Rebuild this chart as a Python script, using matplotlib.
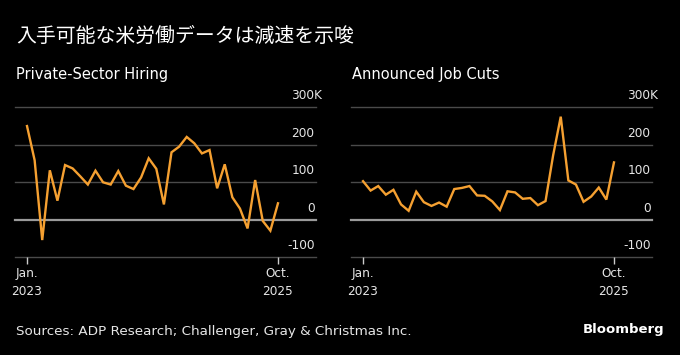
import numpy as np
import matplotlib
matplotlib.use("Agg")
import matplotlib.pyplot as plt

plt.rcParams['font.family'] = ['Noto Sans CJK JP', 'DejaVu Sans']

TITLE = "入手可能な米労働データは減速を示唆"
PANEL_TITLES = ["Private-Sector Hiring", "Announced Job Cuts"]
SOURCE = "Sources: ADP Research; Challenger, Gray & Christmas Inc."

# monthly, Jan 2023 .. Oct 2025, thousands
adp_hiring = [250, 159, -54, 132, 51, 146, 137, 116, 94, 131, 100, 94,
              130, 91, 82, 113, 164, 136, 41, 180, 195, 221, 204, 177,
              186, 84, 148, 60, 30, -23, 106, -3, -29, 44]
job_cuts = [103, 78, 90, 67, 80, 41, 24, 75, 47, 37, 46, 35,
            82, 85, 90, 65, 64, 49, 26, 76, 73, 56, 58, 39,
            50, 172, 275, 105, 94, 48, 62, 86, 54, 153]
y_ticks = [-100, 0, 100, 200, 300]
y_labels = ["-100", "0", "100", "200", "300K"]
x_ticks = [0, 33]
x_labels = ["Jan.\n2023", "Oct.\n2025"]

BG = "black"
LINE = "#f5a031"
GRID = "#4a4a4a"
ZERO = "#9a9a9a"
TXT = "#e6e6e6"

fig = plt.figure(figsize=(6.8, 3.55), dpi=100, facecolor=BG)
fig.text(16 / 680, 1 - 36 / 355, TITLE, color="white", fontsize=14.3,
         va="center", ha="left")

lefts = [15 / 680, 351 / 680]
for k, series in enumerate([adp_hiring, job_cuts]):
    ax = fig.add_axes([lefts[k], 1 - 257.3 / 355, 301 / 680, 150 / 355])
    ax.set_facecolor(BG)
    for s in ax.spines.values():
        s.set_visible(False)
    ax.set_xlim(-1.58, 38.0)
    ax.set_ylim(-100, 300)
    for v, lab in zip(y_ticks, y_labels):
        ax.axhline(v, color=ZERO if v == 0 else GRID,
                   lw=1.6 if v == 0 else 1.0, clip_on=False, zorder=1)
        # the "K" unit hangs past the right end of the gridlines
        xpos = 0.995 + (7.5 / 301 if lab.endswith("K") else 0)
        ax.text(xpos, v + 13, lab, transform=ax.get_yaxis_transform(),
                ha="right", va="bottom", color=TXT, fontsize=8.7,
                family=['DejaVu Sans'])
    ax.plot(np.arange(len(series)), series, color=LINE, lw=1.7, zorder=3,
            solid_joinstyle="miter")
    ax.set_yticks([])
    ax.set_xticks(x_ticks)
    ax.set_xticklabels(x_labels, color=TXT, fontsize=8.7, family=['DejaVu Sans'],
                       linespacing=1.5)
    ax.tick_params(axis="x", length=5, width=1, color="#cccccc", pad=2)
    fig.text(lefts[k] + 1 / 680, 1 - 75 / 355, PANEL_TITLES[k], color="white",
             fontsize=10.5, va="center", ha="left", family=['DejaVu Sans'])

fig.text(16 / 680, 1 - 332 / 355, SOURCE, color=TXT, fontsize=9.7,
         va="center", ha="left", family=['DejaVu Sans'])
fig.text(664 / 680, 1 - 330 / 355, "Bloomberg", color="white", fontsize=9.5,
         fontweight="bold", va="center", ha="right", family=['DejaVu Sans'])

fig.savefig("out.png", dpi=100, facecolor=BG)
